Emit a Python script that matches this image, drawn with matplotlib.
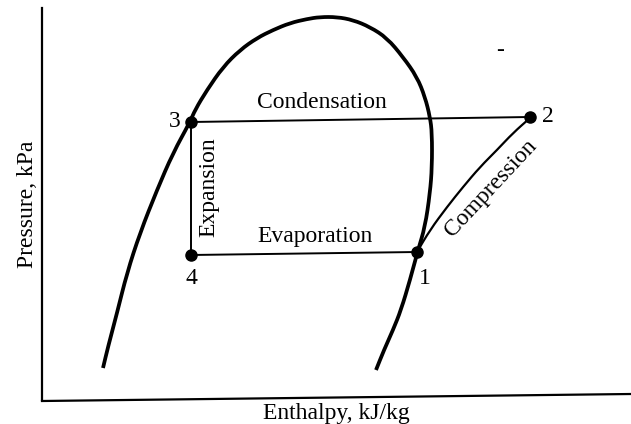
import matplotlib
matplotlib.use("Agg")
import matplotlib.pyplot as plt
from matplotlib.path import Path
from matplotlib.patches import PathPatch

# Saturation dome (enthalpy, pressure) in arbitrary units
dome_h = [61, 66, 75, 85, 98, 115, 131, 148, 153, 165, 181, 198, 215, 231, 248, 265, 278,
          295, 311, 328, 345, 361, 375, 383, 388, 390, 390, 388, 383, 376, 368, 359, 351, 342, 334]
dome_p = [32, 53, 87, 127, 167, 210, 247, 278, 290, 310, 333, 350, 362, 370, 377, 381, 383,
          383, 380, 373, 362, 343, 323, 303, 283, 267, 233, 207, 173, 150, 120, 90, 70, 50, 30]

# Cycle state points
state_labels = ["1", "2", "3", "4"]
state_h = [375, 488, 149, 149]
state_p = [148, 283, 278, 145]

# Compression path 1 -> 2
comp_h = [375, 388, 405, 421, 438, 455, 471, 488]
comp_p = [148, 170, 193, 213, 233, 250, 267, 282]

plt.rcParams['font.family'] = ['Liberation Serif', 'DejaVu Serif']


def smooth_path(xs, ys):
    pts = list(zip(xs, ys))
    verts = [pts[0]]
    codes = [Path.MOVETO]
    mid = lambda a, b: ((a[0] + b[0]) / 2, (a[1] + b[1]) / 2)
    verts.append(mid(pts[0], pts[1]))
    codes.append(Path.LINETO)
    for i in range(1, len(pts) - 1):
        verts += [pts[i], mid(pts[i], pts[i + 1])]
        codes += [Path.CURVE3, Path.CURVE3]
    verts.append(pts[-1])
    codes.append(Path.LINETO)
    return Path(verts, codes)


W, H = 631, 424
fig = plt.figure(figsize=(W / 100, H / 100), dpi=100)
ax = fig.add_axes([42 / W, (H - 400) / H, (W - 42) / W, (400 - 8) / H])
ax.set_xlim(0, W - 42)
ax.set_ylim(0, 392)
for s in ['top', 'right', 'bottom']:
    ax.spines[s].set_visible(False)
ax.spines['left'].set_linewidth(1.6)
ax.set_xticks([])
ax.set_yticks([])
# slightly skewed baseline as in the scan
ax.plot([0, W - 42], [-1, 6], color='black', lw=1.6, clip_on=False)

ax.add_patch(PathPatch(smooth_path(dome_h, dome_p), fill=False, lw=2.7,
                       edgecolor='black', capstyle='butt'))

# Condensation 2 -> 3
ax.plot([state_h[1], state_h[2]], [state_p[1], state_p[2]], color='black', lw=1.4)
# Expansion 3 -> 4
ax.plot([state_h[2], state_h[3]], [state_p[2], state_p[3]], color='black', lw=1.4)
# Evaporation 4 -> 1
ax.plot([state_h[3], state_h[0]], [state_p[3], state_p[0]], color='black', lw=1.4)
# Compression 1 -> 2
ax.add_patch(PathPatch(smooth_path(comp_h, comp_p), fill=False, lw=1.6, edgecolor='black'))

ax.plot(state_h, state_p, 'o', color='black', ms=8, zorder=5)

fs = 17
offs = {"1": (8, -26), "2": (18, 1), "3": (-16, 1), "4": (0, -24)}
for lab, h, p in zip(state_labels, state_h, state_p):
    dx, dy = offs[lab]
    ax.text(h + dx, p + dy, lab, fontsize=fs, ha='center', va='center')

ax.text(280, 298, "Condensation", fontsize=fs, ha='center', va='center')
ax.text(273, 164, "Evaporation", fontsize=fs, ha='center', va='center')
ax.text(167, 213, "Expansion", fontsize=fs, ha='center', va='center', rotation=90)
ax.text(449, 212, "Compression", fontsize=fs, ha='center', va='center', rotation=47)
ax.text(458, 350, "-", fontsize=fs, ha='center', va='center')

ax.set_ylabel("Pressure, kPa", fontsize=fs, labelpad=3)
ax.set_xlabel("Enthalpy, kJ/kg", fontsize=fs, labelpad=2)

fig.savefig("out.png", dpi=100)
